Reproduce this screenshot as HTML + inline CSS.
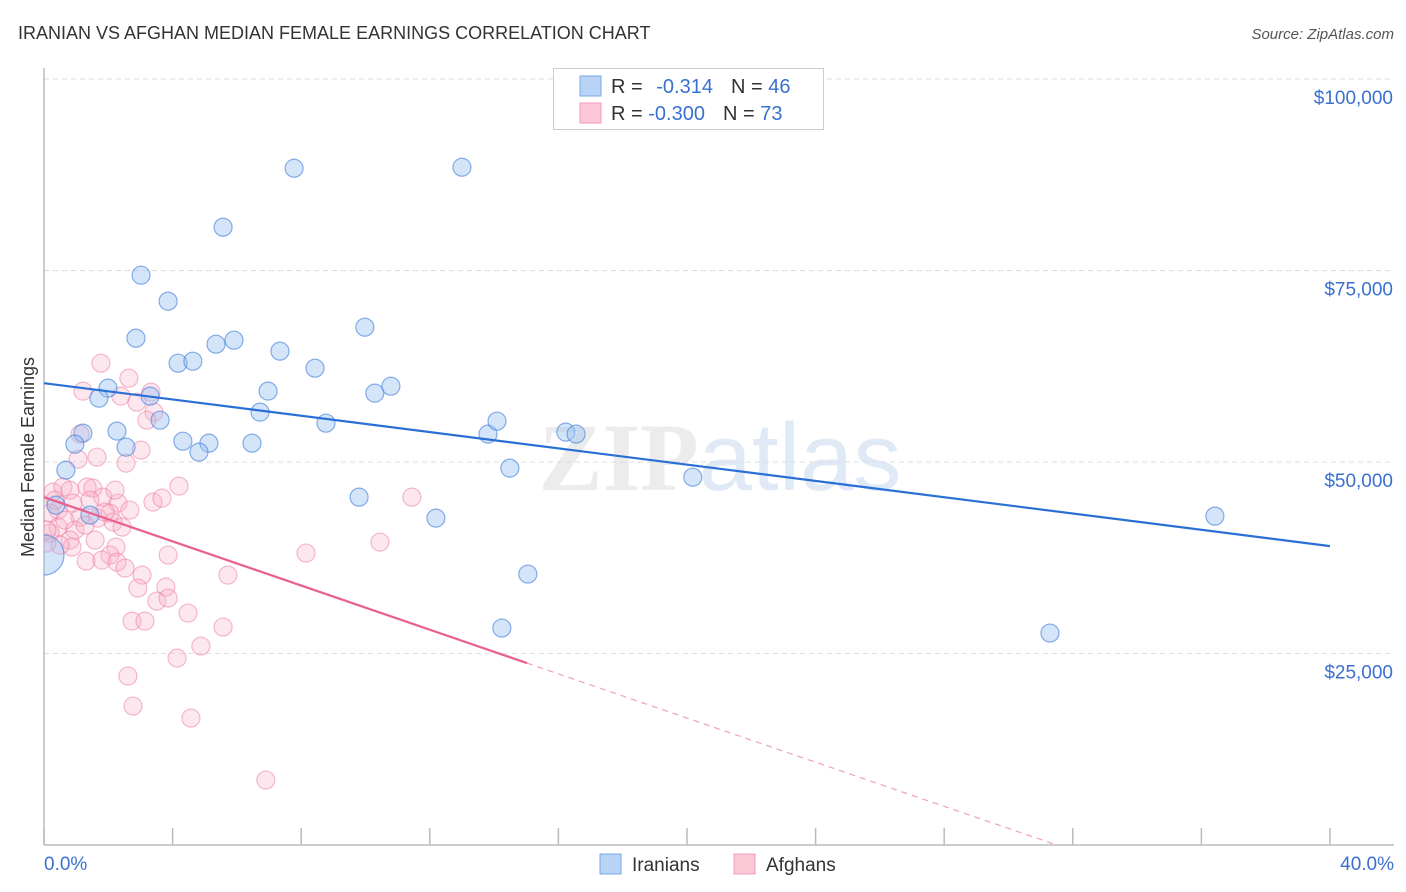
<!DOCTYPE html>
<html><head><meta charset="utf-8">
<style>
body{margin:0;background:#fff;font-family:"Liberation Sans",sans-serif;}
svg{display:block}
</style></head>
<body>
<svg id="chart" width="1406" height="892" xmlns="http://www.w3.org/2000/svg">
<defs><clipPath id="plotclip"><rect x="44" y="60" width="1362" height="785"/></clipPath></defs>
<text x="18" y="39" font-size="18" fill="#333" font-family="Liberation Sans, sans-serif">IRANIAN VS AFGHAN MEDIAN FEMALE EARNINGS CORRELATION CHART</text>
<text x="1394" y="39" font-size="15" fill="#555" text-anchor="end" font-style="italic">Source: ZipAtlas.com</text>
<text x="720" y="490" font-size="96" text-anchor="middle" fill="#ececec" font-family="Liberation Serif, serif" font-weight="bold">ZIP<tspan fill="#e0eaf6" font-family="Liberation Sans, sans-serif" font-weight="normal">atlas</tspan></text>
<g id="grid"></g>
<g id="axes"></g>
<g id="pts" clip-path="url(#plotclip)"></g>
<g id="lines"></g>
<text transform="translate(34,457) rotate(-90)" text-anchor="middle" font-size="18" fill="#333">Median Female Earnings</text>
<g>
<rect x="553.5" y="68.5" width="270" height="61" fill="#fff" stroke="#ccc"/>
<rect x="580" y="76" width="21" height="20" fill="#b8d3f5" stroke="#7aa8e8"/>
<rect x="580" y="103" width="21" height="20" fill="#fcc8d8" stroke="#f29ab8"/>
<text x="611" y="93" font-size="20" fill="#333">R = <tspan fill="#3a70d0" dx="8">-0.314</tspan><tspan fill="#333" dx="18">N = </tspan><tspan fill="#3a70d0">46</tspan></text>
<text x="611" y="120" font-size="20" fill="#333">R = <tspan fill="#3a70d0">-0.300</tspan><tspan fill="#333" dx="18">N = </tspan><tspan fill="#3a70d0">73</tspan></text>
</g>
<g>
<rect x="600" y="854" width="21" height="20" fill="#b8d3f5" stroke="#7aa8e8"/>
<text x="632" y="871" font-size="19" fill="#333">Iranians</text>
<rect x="734" y="854" width="21" height="20" fill="#fcc8d8" stroke="#f29ab8"/>
<text x="766" y="871" font-size="19" fill="#333">Afghans</text>
</g>
</svg>
<script>
const yTicks=[25000,50000,75000,100000];
const yTickLabels=["$25,000","$50,000","$75,000","$100,000"];
const xTicks=[0,4,8,12,16,20,24,28,32,36,40];
const iranX=[5.57,7.78,13.0,3.02,3.86,2.86,5.91,5.35,9.98,7.34,4.17,4.63,8.43,1.99,6.97,10.29,10.79,1.71,3.30,3.61,6.72,8.77,2.27,1.21,4.32,5.13,2.55,4.82,6.47,0.96,0.68,13.81,14.09,16.23,16.55,14.49,20.18,9.80,12.19,1.43,0.37,36.42,15.05,14.24,31.29,0];
const iranY=[80650,88350,88480,74390,70990,66160,65900,65380,67600,64470,62900,63160,62250,59640,59250,58990,59900,58330,58600,55460,56510,55070,54030,53770,52720,52460,51940,51290,52460,52330,48940,53640,55330,53900,53640,49200,48020,45410,42670,43070,44370,42930,35370,28320,27670,37850];
const iranBig=[45];
const afgX=[1.77,2.64,1.21,2.39,2.89,3.33,3.42,3.20,1.12,1.06,1.65,2.55,3.02,4.20,3.39,3.67,0.28,0.59,0.81,1.34,1.52,1.83,2.30,0.90,0.44,0.19,1.12,1.68,2.05,2.15,2.43,0.44,0.96,0.19,0.09,0.81,0.87,2.24,2.05,1.31,1.80,2.27,2.52,3.86,3.05,2.92,3.79,3.51,3.86,4.48,5.72,5.57,4.88,4.14,2.74,3.14,2.61,2.77,4.57,6.90,8.15,11.44,10.45,0.09,0.34,0.65,1.43,1.90,0.50,1.28,2.67,1.59,2.21];
const afgY=[62900,60940,59250,58600,57810,59120,56510,55460,53640,50370,50630,49850,51550,46850,44760,45280,46070,46720,46330,46720,46590,45410,44630,44630,43720,43330,42800,42670,43330,42150,41500,41500,41110,40720,39410,39800,38890,38890,37850,37060,37190,36930,36150,37850,35240,33540,33670,31840,32230,30280,35240,28450,25970,24400,29230,29230,22050,18140,16570,8480,38110,45410,39540,41110,45020,42410,45020,43460,39150,41760,43720,39800,46330];
const iranLine=[[0,60290],[40,39020]];
const afgLine=[[0,45410],[15.02,23750]];
const afgDash=[[15.02,23750],[31.5,0]];

const NS="http://www.w3.org/2000/svg";
const X=v=>44+v/40*1286;
const Y=v=>845-v/25000*191.5;
function mk(tag,attrs,parent){const e=document.createElementNS(NS,tag);for(const k in attrs)e.setAttribute(k,attrs[k]);document.getElementById(parent).appendChild(e);return e;}

yTicks.forEach((t,i)=>{
  const g=mk('line',{x1:44,x2:1394,y1:Y(t),y2:Y(t),stroke:'#ddd','stroke-dasharray':'5,4'},'grid');
  
  
  const l=mk('text',{x:1393,y:Y(t)+25,'text-anchor':'end','font-size':19,fill:'#3a70d0'},'grid');
  l.textContent=yTickLabels[i];
  
  
});
const ax=mk('line',{x1:44,x2:44,y1:68,y2:845,stroke:'#bbb','stroke-width':1.5},'axes');


const bx=mk('line',{x1:44,x2:1394,y1:845,y2:845,stroke:'#bbb','stroke-width':1.5},'axes');


xTicks.forEach(t=>{
  const k=mk('line',{x1:X(t),x2:X(t),y1:828,y2:845,stroke:'#bbb','stroke-width':1.5},'axes');
  
  
});
const x0=mk('text',{x:44,y:870,'font-size':19,fill:'#3a70d0'},'axes');x0.textContent='0.0%';


const x1=mk('text',{x:1394,y:870,'font-size':19,fill:'#3a70d0','text-anchor':'end'},'axes');x1.textContent='40.0%';



afgX.forEach((v,i)=>{
  const c=mk('circle',{cx:X(v),cy:Y(afgY[i]),r:9,fill:'rgba(248,175,200,0.3)',stroke:'rgba(236,130,165,0.55)','stroke-width':1.2},'pts');
  
  
});
iranX.forEach((v,i)=>{
  const c=mk('circle',{cx:X(v),cy:Y(iranY[i]),r:iranBig.includes(i)?20:9,fill:'rgba(150,190,240,0.4)',stroke:'rgba(70,130,220,0.65)','stroke-width':1.2},'pts');
  
  
});
const bl=mk('line',{x1:X(iranLine[0][0]),y1:Y(iranLine[0][1]),x2:X(iranLine[1][0]),y2:Y(iranLine[1][1]),stroke:'#2a6fd6','stroke-width':2.2},'lines');


const pl=mk('line',{x1:X(afgLine[0][0]),y1:Y(afgLine[0][1]),x2:X(afgLine[1][0]),y2:Y(afgLine[1][1]),stroke:'#e8608e','stroke-width':2.2},'lines');


const pd=mk('line',{x1:X(afgDash[0][0]),y1:Y(afgDash[0][1]),x2:X(afgDash[1][0]),y2:Y(afgDash[1][1]),stroke:'#f0a0bc','stroke-width':1.2,'stroke-dasharray':'6,5'},'lines');


</script>
</body></html>
